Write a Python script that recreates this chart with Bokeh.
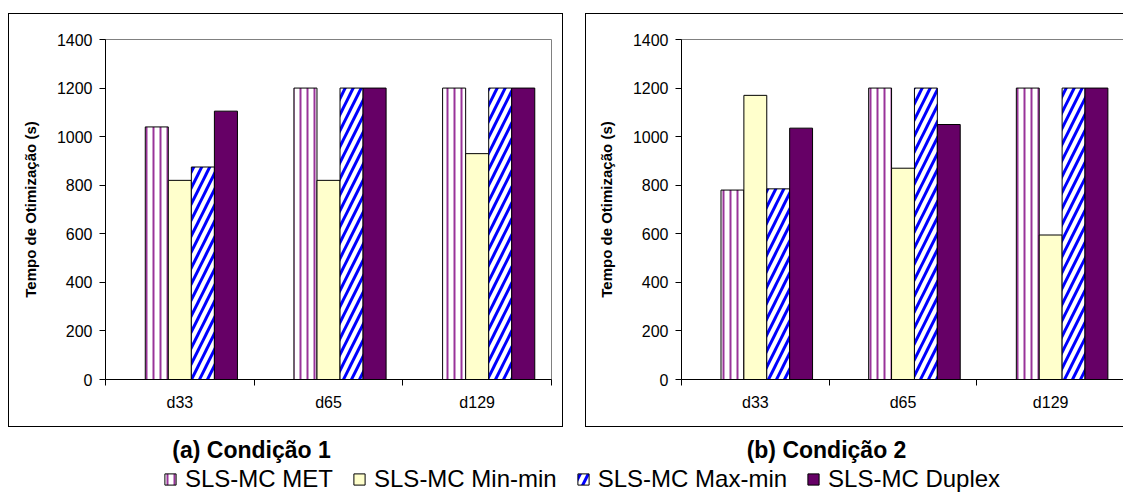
from bokeh.plotting import figure
from bokeh.models import Range1d, FixedTicker, Legend, LegendItem, Label, Spacer
from bokeh.layouts import column, row
from bokeh.embed import file_html
from bokeh.resources import INLINE

# ---------------- data ----------------
categories = ["d33", "d65", "d129"]
series_names = ["SLS-MC MET", "SLS-MC Min-min", "SLS-MC Max-min", "SLS-MC Duplex"]

cond1_met = [1040, 1200, 1200]
cond1_minmin = [820, 820, 930]
cond1_maxmin = [875, 1200, 1200]
cond1_duplex = [1105, 1200, 1200]

cond2_met = [780, 1200, 1200]
cond2_minmin = [1170, 870, 595]
cond2_maxmin = [785, 1200, 1200]
cond2_duplex = [1035, 1050, 1200]

y_ticks = [0, 200, 400, 600, 800, 1000, 1200, 1400]
titles = ["(a) Condição 1", "(b) Condição 2"]
y_label = "Tempo de Otimização (s)"

# ---------------- styles / layout ----------------
FONT = "Liberation Sans"
BAR_W = 0.155
OFFSETS = [-0.155, 0.0, 0.155, 0.31]
STYLES = [
    dict(fill_color="white", hatch_pattern="vertical_line", hatch_color="#993399",
         hatch_scale=7, hatch_weight=2),
    dict(fill_color="#FFFFCC"),
    dict(fill_color="white", hatch_pattern="right_diagonal_line", hatch_color="#0000FF",
         hatch_scale=16, hatch_weight=3),
    dict(fill_color="#660066"),
]


def make_chart(series, width, height, mb_left, mb_right, css):
    n = len(categories)
    p = figure(width=width, height=height, output_backend="svg", toolbar_location=None,
               x_range=Range1d(0, n), y_range=Range1d(y_ticks[0], y_ticks[-1]),
               min_border_left=mb_left, min_border_right=mb_right,
               min_border_top=25, min_border_bottom=49)
    p.styles = css
    p.grid.visible = False
    p.outline_line_color = "#808080"
    p.outline_line_width = 1
    p.background_fill_color = "white"
    p.border_fill_color = "white"

    for vals, off, st in zip(series, OFFSETS, STYLES):
        xs = [i + 0.5 + off for i in range(n)]
        p.vbar(x=xs, top=vals, bottom=0, width=BAR_W, line_color="black", line_width=1, **st)

    # x axis: labels at category centres, ticks at category boundaries
    xa = p.xaxis[0]
    centres = [i + 0.5 for i in range(n)]
    xa.ticker = FixedTicker(ticks=centres, minor_ticks=list(range(n + 1)))
    xa.major_label_overrides = {c: lab for c, lab in zip(centres, categories)}
    xa.major_tick_out = 0
    xa.major_tick_in = 0
    xa.minor_tick_out = 6
    xa.minor_tick_in = 0
    xa.minor_tick_line_color = "black"
    xa.axis_line_color = "black"
    xa.major_label_text_font = FONT
    xa.major_label_text_font_size = "16px"
    xa.major_label_text_color = "black"
    xa.major_label_standoff = 8

    ya = p.yaxis[0]
    ya.ticker = FixedTicker(ticks=y_ticks, minor_ticks=[])
    ya.major_tick_out = 6
    ya.major_tick_in = 0
    ya.major_tick_line_color = "black"
    ya.axis_line_color = "black"
    ya.major_label_text_font = FONT
    ya.major_label_text_font_size = "16px"
    ya.major_label_text_color = "black"
    ya.major_label_standoff = 7
    ya.axis_label = y_label
    ya.axis_label_text_font = FONT
    ya.axis_label_text_font_size = "15px"
    ya.axis_label_text_font_style = "bold"
    ya.axis_label_text_color = "black"
    ya.axis_label_standoff = 15
    return p


p1 = make_chart([cond1_met, cond1_minmin, cond1_maxmin, cond1_duplex], 555, 414, 96, 13,
                {"border": "1px solid black"})
p2 = make_chart([cond2_met, cond2_minmin, cond2_maxmin, cond2_duplex], 538, 414, 95, 0,
                {"border": "1px solid black", "border-right": "none"})

# bottom strip: subfigure captions and shared legend
p3 = figure(width=1123, height=66, output_backend="svg", toolbar_location=None,
            x_axis_type=None, y_axis_type=None, min_border=0,
            x_range=Range1d(0, len(categories)), y_range=Range1d(y_ticks[0], y_ticks[-1]))
p3.grid.visible = False
p3.outline_line_color = None
p3.background_fill_alpha = 0
p3.border_fill_alpha = 0

for txt, xpos in zip(titles, [251, 826]):
    p3.add_layout(Label(x=xpos, y=44, x_units="screen", y_units="screen", text=txt,
                        text_font=FONT, text_font_size="23px", text_font_style="bold",
                        text_align="center", text_baseline="middle", text_color="black"))

items = []
for name, vals, off, st in zip(series_names,
                               [cond1_met, cond1_minmin, cond1_maxmin, cond1_duplex],
                               OFFSETS, STYLES):
    xs = [i + 0.5 + off for i in range(len(categories))]
    r = p3.vbar(x=xs, top=vals, bottom=0, width=BAR_W, line_color="black", line_width=1, **st)
    r.visible = False  # only the legend swatch is wanted here
    items.append(LegendItem(label=name, renderers=[r]))
legend = Legend(items=items, orientation="horizontal", location=(163, 0),
                label_text_font=FONT, label_text_font_size="24px", label_text_color="black",
                glyph_width=14, glyph_height=14, spacing=19, label_standoff=8,
                padding=0, margin=0, border_line_color=None, background_fill_alpha=0)
p3.add_layout(legend)

layout = column(Spacer(height=13),
                row(Spacer(width=8), p1, Spacer(width=22), p2),
                p3)

with open("out.html", "w") as f:
    f.write(file_html(layout, INLINE))
